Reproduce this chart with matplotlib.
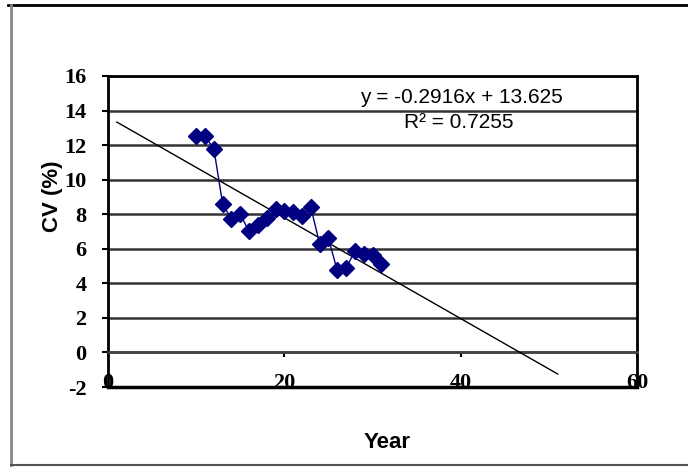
import numpy as np
import matplotlib.pyplot as plt
from matplotlib.lines import Line2D

# data
years = list(range(10, 32))
cv = [12.5, 12.5, 11.8, 8.6, 7.7, 8.0, 7.0, 7.4, 7.8, 8.3, 8.2, 8.1,
      7.9, 8.4, 6.3, 6.6, 4.75, 4.9, 5.85, 5.7, 5.65, 5.1]

# linear trendline as reported on the chart
slope = -0.2916
intercept = 13.625
r2 = 0.7255
trend_x = [1, 51]

plt.rcParams["axes.unicode_minus"] = False

fig = plt.figure(figsize=(6.88, 4.67), dpi=100)
ax = fig.add_axes([0.157, 0.1713, 0.7689, 0.666])

tick_font = dict(family="Liberation Serif", weight="bold", size=16)

ax.plot(years, cv, color="#000080", lw=1, marker="D", ms=8,
        markerfacecolor="#000080", markeredgecolor="#000080", zorder=4)

tx = np.array(trend_x)
ax.plot(tx, slope * tx + intercept, color="black", lw=1, zorder=3)

ax.set_xlim(0, 60)
ax.set_ylim(-2, 16)
ax.set_yticks(range(-2, 17, 2))
ax.set_xticks([0, 20, 40, 60])

ax.yaxis.grid(True, color="#333333", lw=1.8)
ax.set_axisbelow(True)

for s in ["left", "top", "right"]:
    ax.spines[s].set_color("black")
    ax.spines[s].set_linewidth(2)
ax.spines["bottom"].set_position(("data", 0))
ax.spines["bottom"].set_color("#444444")
ax.spines["bottom"].set_linewidth(1.8)
ax.axhline(-2, color="black", lw=2.5, clip_on=False, zorder=5)

ax.tick_params(axis="y", direction="out", length=4.5, width=1.5, pad=11)
ax.tick_params(axis="x", direction="out", length=3.5, width=1.5, pad=11.5)
for lab in ax.get_yticklabels() + ax.get_xticklabels():
    lab.set_fontproperties(tick_font)

fig.text(0.670, 0.792, "y = -0.2916x + 13.625", ha="center", va="center",
         family="Liberation Sans", fontsize=15)
fig.text(0.667, 0.737, "R² = {}".format(r2), ha="center", va="center",
         family="Liberation Sans", fontsize=15)

fig.text(0.5625, 0.0514, "Year", ha="center", va="center",
         family="Liberation Sans", weight="bold", fontsize=16)
fig.text(0.077, 0.580, "CV (%)", ha="center", va="center", rotation=90,
         family="Liberation Sans", weight="bold", fontsize=16)

# chart area border
fig.add_artist(Line2D([0.012, 1.0], [0.989, 0.989], color="black", lw=2))
fig.add_artist(Line2D([0.016, 0.016], [0.989, 0.004], color="#888888", lw=2))
fig.add_artist(Line2D([0.016, 1.0], [0.005, 0.005], color="#555555", lw=1.5))

fig.savefig("out.png", dpi=100)
